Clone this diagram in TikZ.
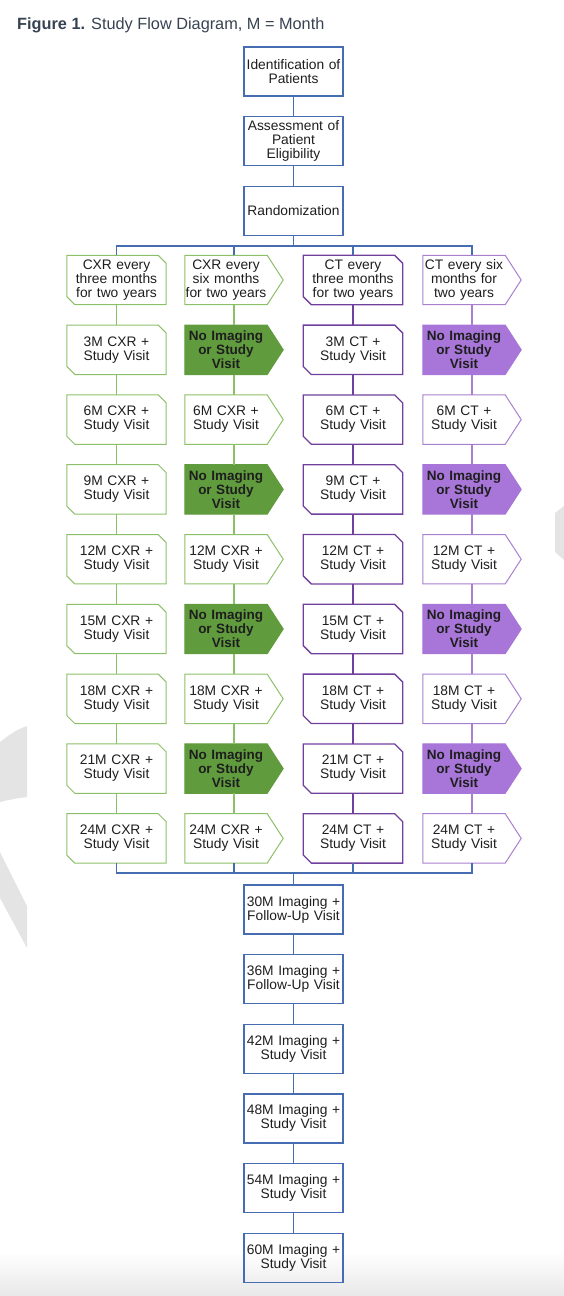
\documentclass[tikz,border=0pt]{standalone}
\usepackage{fontspec}
\setmainfont{Liberation Sans}
\usetikzlibrary{calc,backgrounds}
\definecolor{blueC}{RGB}{70,108,178}
\definecolor{grnB}{RGB}{140,192,104}
\definecolor{grnF}{RGB}{96,156,62}
\definecolor{purB}{RGB}{112,64,156}
\definecolor{purL}{RGB}{168,128,206}
\definecolor{purF}{RGB}{168,118,216}
\definecolor{txt}{RGB}{30,30,30}
\definecolor{titleC}{RGB}{55,66,82}
\definecolor{wm}{RGB}{228,228,228}
\newcommand\bodyfnt{\fontsize{13.8}{14}\selectfont}
\newcommand\chbox[3]{\draw[draw=#2, line width=#3] (#1.north west) -- ([xshift=-8pt]#1.north east) -- ([yshift=-8pt]#1.north east) -- (#1.south east) -- ([xshift=8pt]#1.south west) -- ([yshift=8pt]#1.south west) -- cycle;}
\newcommand\arbox[4]{\begin{pgfonlayer}{background}\draw[draw=#2, fill=#3, line width=#4] (#1.north west) -- (#1.north east) -- ([xshift=16pt]#1.east) -- (#1.south east) -- (#1.south west) -- cycle;\end{pgfonlayer}}
\begin{document}
\begin{tikzpicture}[x=1pt,y=-1pt,
  box/.style={minimum width=99pt, minimum height=49pt, inner sep=0pt, text width=99pt, align=center, font=\bodyfnt, text=txt},
  bluebox/.style={box, draw=blueC, line width=1.2pt},
  cbox/.style={box},
  abox/.style={minimum width=82pt, minimum height=49pt, inner sep=0pt, text width=82pt, align=center, font=\bodyfnt, text=txt},
  nobox/.style={abox, font=\fontsize{13.5}{14}\selectfont\bfseries},
  bl/.style={draw=blueC, line width=1.4pt},
  gl/.style={draw=grnB, line width=1.2pt},
  pl/.style={draw=purB, line width=1.2pt},
  ql/.style={draw=purL, line width=1.2pt}]
\useasboundingbox (0,0) rectangle (564,1296);
% background decorations
\fill[top color=white, bottom color=black!9, draw=none] (0,1252) rectangle (564,1296);
\fill[wm] (0,742) .. controls (10,734) and (18,729) .. (27,726) -- (27,797) .. controls (18,798) and (8,800) .. (0,802) -- cycle;
\fill[wm] (0,852) -- (27,906) -- (27,948) -- (0,898) -- cycle;
\fill[wm] (555,513) -- (564,506) -- (564,560) -- (555,552) -- cycle;
% title
\node[anchor=base west, inner sep=0pt, font=\fontsize{16.3}{18}\selectfont, text=titleC] (title) at (17,29) {\textbf{Figure 1.} Study Flow Diagram, M = Month};
% top boxes
\node[bluebox] (id) at (293.5,71.5) {Identification of\\Patients};
\node[bluebox] (as) at (293.5,141.3) {Assessment of\\Patient\\Eligibility};
\node[bluebox] (ra) at (293.5,211) {Randomization};
\draw[bl] (id) -- (as);
\draw[bl] (as) -- (ra);
% headers
\node[cbox] (a0) at (116.5,280) {CXR every\\three months\\for two years};
\chbox{a0}{grnB}{1pt}
\node[abox] (b0) at (226,280) {CXR every\\six months\\for two years};
\arbox{b0}{grnB}{white}{1pt}
\node[cbox] (c0) at (353,280) {CT every\\three months\\for two years};
\chbox{c0}{purB}{1.3pt}
\node[abox] (d0) at (464,280) {CT every six\\months for\\two years};
\arbox{d0}{purL}{white}{1pt}
% rows
\foreach \k/\m in {1/3,2/6,3/9,4/12,5/15,6/18,7/21,8/24}{
  \node[cbox] (a\k) at (116.5,{280+69.8*\k}) {\m M CXR +\\Study Visit};
  \chbox{a\k}{grnB}{1pt}
  \node[cbox] (c\k) at (353,{280+69.8*\k}) {\m M CT +\\Study Visit};
  \chbox{c\k}{purB}{1.3pt}
}
\foreach \k in {1,3,5,7}{
  \node[nobox] (b\k) at (226,{280+69.8*\k}) {No Imaging\\or Study\\Visit};
  \arbox{b\k}{grnF}{grnF}{1pt}
  \node[nobox] (d\k) at (464,{280+69.8*\k}) {No Imaging\\or Study\\Visit};
  \arbox{d\k}{purF}{purF}{1pt}
}
\foreach \k/\m in {2/6,4/12,6/18,8/24}{
  \node[abox] (b\k) at (226,{280+69.8*\k}) {\m M CXR +\\Study Visit};
  \arbox{b\k}{grnB}{white}{1pt}
  \node[abox] (d\k) at (464,{280+69.8*\k}) {\m M CT +\\Study Visit};
  \arbox{d\k}{purL}{white}{1pt}
}
% branch connectors
\coordinate (br) at (293.5,246);
\coordinate (jn) at (293.5,873);
\draw[bl] (ra) -- (br);
\draw[bl] (a0.north) |- ([xshift=8pt]d0.north |- br) -- ([xshift=8pt]d0.north);
\draw[bl] ([xshift=8pt]b0.north) -- ([xshift=8pt]b0.north |- br);
\draw[bl] (c0.north) -- (c0.north |- br);
% column connectors
\foreach \j/\k in {0/1,1/2,2/3,3/4,4/5,5/6,6/7,7/8}{
  \draw[gl] (a\j) -- (a\k);
  \draw[pl] (c\j) -- (c\k);
  \draw[gl] ([xshift=8pt]b\j.south) -- ([xshift=8pt]b\k.north);
  \draw[ql] ([xshift=8pt]d\j.south) -- ([xshift=8pt]d\k.north);
}
% join
\draw[bl] (a8.south) |- ([xshift=8pt]d8.south |- jn) -- ([xshift=8pt]d8.south);
\draw[bl] ([xshift=8pt]b8.south) -- ([xshift=8pt]b8.south |- jn);
\draw[bl] (c8.south) -- (c8.south |- jn);
% bottom boxes
\node[bluebox] (e1) at (293.5,909.5) {30M Imaging +\\Follow-Up Visit};
\node[bluebox] (e2) at (293.5,979) {36M Imaging +\\Follow-Up Visit};
\node[bluebox] (e3) at (293.5,1048.7) {42M Imaging +\\Study Visit};
\node[bluebox] (e4) at (293.5,1118.4) {48M Imaging +\\Study Visit};
\node[bluebox] (e5) at (293.5,1188.1) {54M Imaging +\\Study Visit};
\node[bluebox] (e6) at (293.5,1257.8) {60M Imaging +\\Study Visit};
\draw[bl] (jn) -- (e1);
\draw[bl] (e1) -- (e2);
\draw[bl] (e2) -- (e3);
\draw[bl] (e3) -- (e4);
\draw[bl] (e4) -- (e5);
\draw[bl] (e5) -- (e6);
\end{tikzpicture}
\end{document}
